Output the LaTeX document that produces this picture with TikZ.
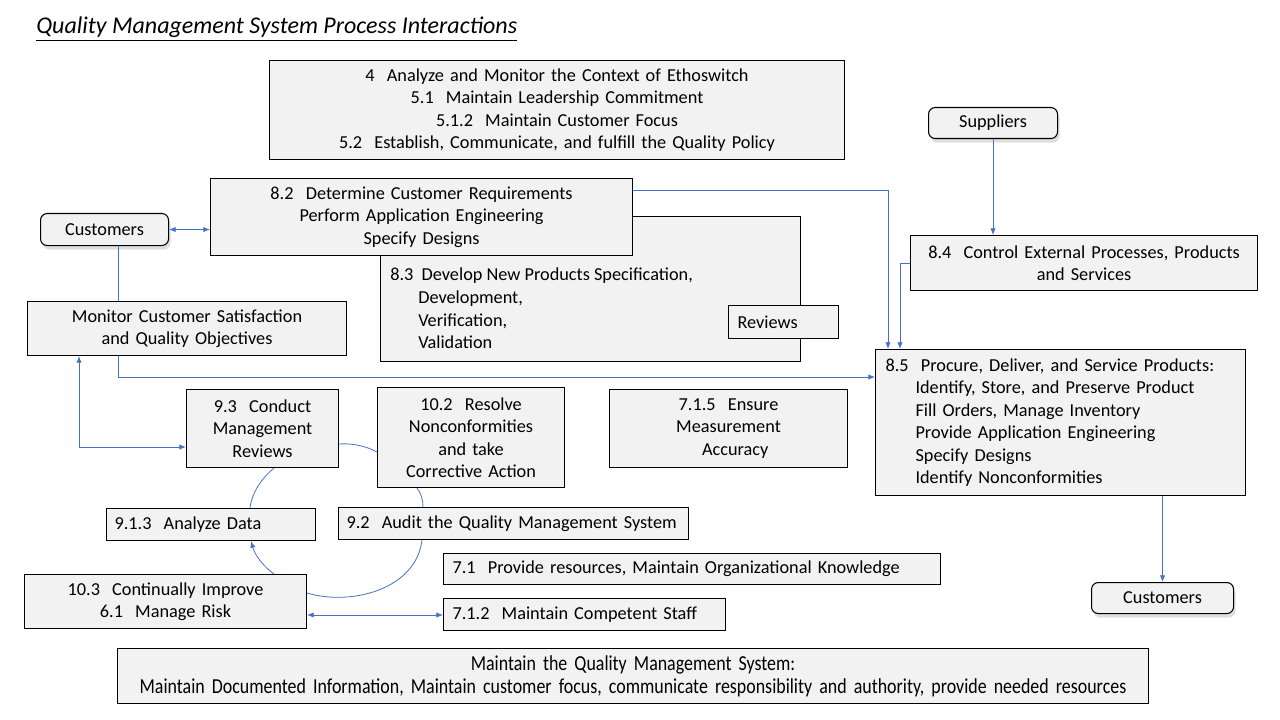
\documentclass[tikz,border=0pt]{standalone}
\usepackage{fontspec}
\setmainfont{Carlito}
\newfontfamily\narrowfont[FakeStretch=0.84]{Carlito}
\usetikzlibrary{arrows.meta,shadows}
\definecolor{conn}{HTML}{4472C4}
\definecolor{boxfill}{HTML}{F2F2F2}
\tikzset{
  x=0.75pt, y=-0.75pt,
  box/.style={draw=black, line width=0.8pt, fill=boxfill, inner sep=0pt, anchor=north west,
    font=\fontsize{13.7}{16.9}\selectfont},
  wh/.style 2 args={minimum width=#1*0.75pt, minimum height=#2*0.75pt},
  tw/.style={text width=#1*0.75pt},
  rbox/.style={box, rounded corners=5pt, drop shadow={shadow xshift=1.5pt, shadow yshift=-3pt, opacity=0.25}},
  conn/.style={draw=conn, line width=0.6pt},
  tip/.style={-{Latex[length=5pt,width=4pt]}},
  tips/.style={{Latex[length=5pt,width=4pt]}-{Latex[length=5pt,width=4pt]}},
}
\begin{document}
\begin{tikzpicture}
\useasboundingbox (0,0) rectangle (1280,720);
% title
\node[anchor=west, inner sep=0pt, font=\fontsize{18}{20}\selectfont\itshape] (title) at (36,29)
  {\underline{Quality Management System Process Interactions}};
% top box
\node[box, wh={575}{99}, tw=565, align=center] (n4) at (269,60)
  {4\ \ Analyze and Monitor the Context of Ethoswitch\\5.1\ \ Maintain Leadership Commitment\\5.1.2\ \ Maintain Customer Focus\\5.2\ \ Establish, Communicate, and fulfill the Quality Policy};
% 8.3 (behind 8.2)
\node[box, wh={420}{145}] (n83) at (380,216) {};
\node[anchor=west, inner sep=0pt, align=left, font=\fontsize{13.7}{16.9}\selectfont] (n83t) at (390,308.5)
  {8.3\ \ Develop New Products Specification,\\\hspace*{21pt}Development,\\\hspace*{21pt}Verification,\\\hspace*{21pt}Validation};
\node[box, wh={110}{33}, tw=92, align=left] (rev) at (728,305) {Reviews};
% 8.2
\node[box, wh={422}{77}, tw=415, align=center] (n82) at (210,178)
  {8.2\ \ Determine Customer Requirements\\Perform Application Engineering\\Specify Designs};
% customers left
\node[rbox, wh={128}{32}, align=center] (custL) at (40,213) {Customers};
% monitor
\node[box, wh={319}{54}, tw=310, align=center] (mon) at (27,301)
  {Monitor Customer Satisfaction\\and Quality Objectives};
% suppliers
\node[rbox, wh={129}{31}, align=center] (sup) at (928,107) {Suppliers};
% 8.4
\node[box, wh={347}{55}, tw=340, align=center] (n84) at (910,235)
  {8.4\ \ Control External Processes, Products\\and Services};
% 8.5
\node[box, wh={370}{146}, tw=350, align=left] (n85) at (875,349)
  {8.5\ \ Procure, Deliver, and Service Products:\\\hspace*{22.5pt}Identify, Store, and Preserve Product\\\hspace*{22.5pt}Fill Orders, Manage Inventory\\\hspace*{22.5pt}Provide Application Engineering\\\hspace*{22.5pt}Specify Designs\\\hspace*{22.5pt}Identify Nonconformities};
% 7.1.5
\node[box, wh={238}{78}, tw=220, align=center] (n715) at (609,389)
  {7.1.5\ \ Ensure\\Measurement\\\hspace*{10pt}Accuracy};
% 9.3
\node[box, wh={152}{78}, tw=145, align=center] (n93) at (186,389)
  {9.3\ \ Conduct\\Management\\Reviews};
% 10.2
\node[box, wh={187}{100}, tw=180, align=center] (n102) at (377,387)
  {10.2\ \ Resolve\\Nonconformities\\and take\\Corrective Action};
% 9.1.3
\node[box, wh={209}{32}, tw=193, align=left] (n913) at (106,508) {9.1.3\ \ Analyze Data};
% 9.2
\node[box, wh={350}{32}, tw=334, align=left] (n92) at (338,507) {9.2\ \ Audit the Quality Management System};
% 7.1
\node[box, wh={497}{31}, tw=479, align=left] (n71) at (443,553) {7.1\ \ Provide resources, Maintain Organizational Knowledge};
% 10.3
\node[box, wh={282}{54}, tw=275, align=center] (n103) at (24,574)
  {10.3\ \ Continually Improve\\6.1\ \ Manage Risk};
% 7.1.2
\node[box, wh={282}{32}, tw=264, align=left] (n712) at (443,598) {7.1.2\ \ Maintain Competent Staff};
% bottom
\node[box, wh={1031}{55}, tw=1025, align=center, font=\fontsize{16}{17}\narrowfont] (bot) at (117,648)
  {Maintain the Quality Management System:\\Maintain Documented Information, Maintain customer focus, communicate responsibility and authority, provide needed resources};
% customers right
\node[rbox, wh={142}{31}, align=center] (custR) at (1091,582) {Customers};

% connectors
\coordinate (c1) at (118,377);
\coordinate (c2) at (888,190);
\coordinate (c3) at (900,263);
\coordinate (c5) at (79,447);
\coordinate (c6) at (0,615);
\draw[conn,tips] (custL.east) -- (custL.east -| n82.west);
\draw[conn] (c1 |- custL.south) -- (c1 |- mon.north);
\draw[conn,tip] (c1 |- mon.south) -- (c1) -- (c1 -| n85.west);
\draw[conn,tip] (c2 -| n82.east) -- (c2) -- (c2 |- n85.north);
\draw[conn,tip] (c3 -| n84.west) -- (c3) -- (c3 |- n85.north);
\draw[conn,tip] (sup.south) -- (sup.south |- n84.north);
\draw[conn,tip] (custR.north |- n85.south) -- (custR.north);
\draw[conn,tips] (c5 |- mon.south) -- (c5) -- (c5 -| n93.west);
\draw[conn,tips] (c6 -| n103.east) -- (c6 -| n712.west);
% cycle arcs
\draw[conn] (n93.south -| 274,0) .. controls (262,478) and (252,492) .. (n913.north -| 250,0);
\draw[conn] (n93.east |- 0,444) .. controls (352,443) and (366,446) .. (n102.west |- 0,452);
\draw[conn] (n102.south -| 417,0) .. controls (421,493) and (423,500) .. (n92.north -| 423,0);
\draw[conn] (n92.south -| 422,0) .. controls (416,590) and (350,606) .. (n103.east |- 0,593);
\draw[conn,tip] (n103.north -| 274,0) .. controls (262,565) and (255,555) .. (n913.south -| 251,0);
\end{tikzpicture}
\end{document}
